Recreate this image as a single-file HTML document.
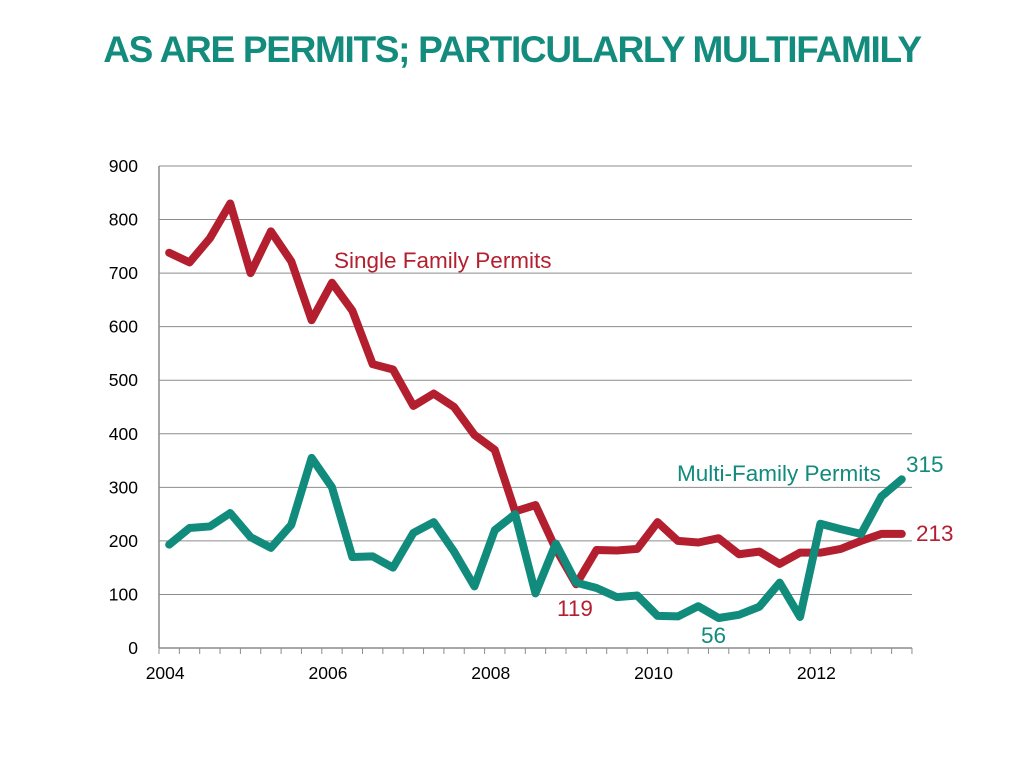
<!DOCTYPE html>
<html><head><meta charset="utf-8"><style>
body{margin:0;width:1024px;height:768px;background:#fff;overflow:hidden;font-family:"Liberation Sans",sans-serif}
#title{position:absolute;left:0;top:29px;width:1024px;text-align:center;font-weight:bold;font-size:37px;color:#138c7d;letter-spacing:-1.3px}
</style></head><body>
<div id="title">AS ARE PERMITS; PARTICULARLY MULTIFAMILY</div>
<svg id="chart" width="1024" height="768" style="position:absolute;left:0;top:0"></svg>
<script>
const categories=[];for(let i=0;i<37;i++)categories.push(2004+i/4);
const singleFamily=[738,720,765,830,700,778,722,612,682,630,530,520,452,475,450,398,370,255,267,185,119,183,182,185,235,200,197,205,175,180,157,178,178,185,200,213,213];
const multiFamily=[193,224,227,252,207,187,230,355,300,170,171,150,215,235,180,115,220,250,102,195,122,112,95,98,60,59,78,56,62,77,122,58,232,222,213,283,315];
const yTicks=[0,100,200,300,400,500,600,700,800,900];
const xLabels=["2004","2006","2008","2010","2012"];
const svg=document.getElementById('chart');const NS='http://www.w3.org/2000/svg';
const x0=159,step=20.35,yb=648,yt=166,ymax=900;
const X=i=>x0+step*(i+0.5);
const Y=v=>yb-(v/ymax)*(yb-yt);
function mk(t,a,txt){const e=document.createElementNS(NS,t);for(const k in a)e.setAttribute(k,a[k]);if(txt!=null)e.textContent=txt;svg.appendChild(e);return e;}
yTicks.forEach(v=>{
 if(v>0){const g=mk('line',{x1:x0,x2:x0+step*37,y1:Y(v),y2:Y(v),stroke:'#8c8c8c','stroke-width':1});
 
 }
 const t=mk('text',{x:138,y:Y(v)+6,'text-anchor':'end','font-size':17.5,fill:'#000'},v);
 
 
});
const ax=mk('line',{x1:x0,x2:x0,y1:yt,y2:yb,stroke:'#8c8c8c','stroke-width':1.5});


const xa=mk('line',{x1:x0,x2:x0+step*37,y1:yb,y2:yb,stroke:'#8c8c8c','stroke-width':1.5});


for(let i=0;i<=37;i++){const tk=mk('line',{x1:x0+step*i,x2:x0+step*i,y1:yb,y2:yb+6,stroke:'#8c8c8c','stroke-width':1});
 
 }
xLabels.forEach((l,k)=>{const t=mk('text',{x:X(k*8)-4,y:yb+31,'text-anchor':'middle','font-size':17.5,fill:'#000'},l);
 
 });
function line(data,color,name){const p=mk('polyline',{points:data.map((v,i)=>X(i)+','+Y(v)).join(' '),fill:'none',stroke:color,'stroke-width':8,'stroke-linejoin':'round','stroke-linecap':'round'});
 
 }
const red='#b41f2f',teal='#118b7c';
line(singleFamily,red,'single-family-line');
line(multiFamily,teal,'multi-family-line');
function lab(x,y,txt,c,name,size){const t=mk('text',{x:x,y:y,'font-size':size||22.5,fill:c},txt);
 
 }
lab(334,268,'Single Family Permits',red,'single-family-label');
lab(677,481,'Multi-Family Permits',teal,'multi-family-label');
lab(906,472,'315',teal,'last-multi-value');
lab(916,541,'213',red,'last-single-value');
lab(557,616,'119',red,'min-single-value');
lab(701,643,'56',teal,'min-multi-value');
</script>
</body></html>
